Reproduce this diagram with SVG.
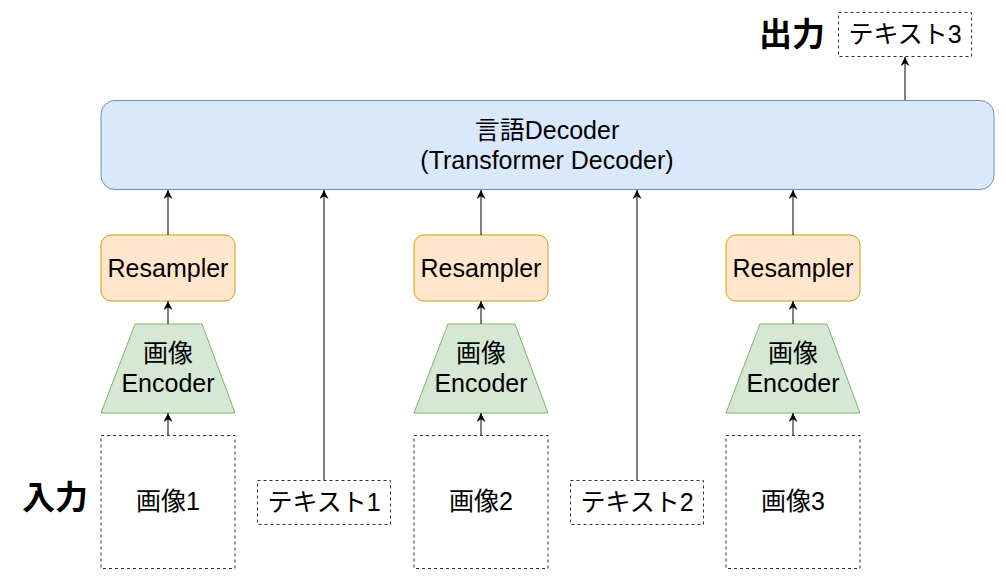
<svg xmlns="http://www.w3.org/2000/svg" width="1006" height="581" viewBox="0 0 1006 581">
<defs>
<style>
.t{font-family:"Liberation Sans","Noto Sans CJK JP",Arial,sans-serif;font-size:25px;fill:#000;text-anchor:middle}
.b{font-family:"Noto Sans CJK JP","Liberation Sans",sans-serif;font-size:33px;font-weight:bold;fill:#000;text-anchor:middle}
.dec{fill:#dae8fc;stroke:#6c8ebf;stroke-width:1}
.res{fill:#ffe6cc;stroke:#d79b00;stroke-width:1}
.enc{fill:#d5e8d4;stroke:#82b366;stroke-width:1}
.dash{fill:#fff;stroke:#333;stroke-width:1;stroke-dasharray:3 3}
.c{stroke:#000;stroke-width:1;fill:none;marker-end:url(#arr)}
</style>
<marker id="arr" markerUnits="userSpaceOnUse" viewBox="0 0 10 10" refX="10" refY="5" markerWidth="10" markerHeight="9" orient="auto">
<path d="M0,0 L10,5 L0,10 L3,5 z" fill="#000"/>
</marker>
</defs>
<rect width="1006" height="581" fill="#fff"/>
<g id="decoder">
<rect class="dec" x="101" y="100.5" width="893" height="89" rx="14"/>
<text class="t" x="547" y="139">言語Decoder</text>
<text class="t" x="547" y="169">(Transformer Decoder)</text>
</g>
<g id="resampler1"><rect class="res" x="101" y="235" width="134" height="66" rx="10"/><text class="t" x="168" y="277">Resampler</text></g>
<g id="resampler2"><rect class="res" x="414" y="235" width="134" height="66" rx="10"/><text class="t" x="481" y="277">Resampler</text></g>
<g id="resampler3"><rect class="res" x="726" y="235" width="134" height="66" rx="10"/><text class="t" x="793" y="277">Resampler</text></g>
<g id="encoder1"><path class="enc" d="M135,324 L202,324 L235,413 L101,413 Z"/><text class="t" x="168" y="362">画像</text><text class="t" x="168" y="392">Encoder</text></g>
<g id="encoder2"><path class="enc" d="M448,324 L515,324 L548,413 L414,413 Z"/><text class="t" x="481" y="362">画像</text><text class="t" x="481" y="392">Encoder</text></g>
<g id="encoder3"><path class="enc" d="M760,324 L827,324 L860,413 L726,413 Z"/><text class="t" x="793" y="362">画像</text><text class="t" x="793" y="392">Encoder</text></g>
<g id="image1"><rect class="dash" x="101" y="435.5" width="134" height="133"/><text class="t" x="168" y="510">画像1</text></g>
<g id="image2"><rect class="dash" x="414" y="435.5" width="134" height="133"/><text class="t" x="481" y="510">画像2</text></g>
<g id="image3"><rect class="dash" x="726" y="435.5" width="134" height="133"/><text class="t" x="793" y="510">画像3</text></g>
<g id="text1"><rect class="dash" x="257.5" y="480.5" width="133" height="44"/><text class="t" x="324" y="511">テキスト1</text></g>
<g id="text2"><rect class="dash" x="570.5" y="480.5" width="133" height="44"/><text class="t" x="637" y="511">テキスト2</text></g>
<g id="text3"><rect class="dash" x="838.5" y="12.5" width="133" height="44"/><text class="t" x="905" y="43">テキスト3</text></g>
<g id="label-out"><text class="b" x="792" y="46">出力</text></g>
<g id="label-in"><text class="b" x="55" y="509">入力</text></g>
<g id="connectors">
<line class="c" x1="168" y1="235" x2="168" y2="190"/>
<line class="c" x1="481" y1="235" x2="481" y2="190"/>
<line class="c" x1="793" y1="235" x2="793" y2="190"/>
<line class="c" x1="168" y1="324" x2="168" y2="301"/>
<line class="c" x1="481" y1="324" x2="481" y2="301"/>
<line class="c" x1="793" y1="324" x2="793" y2="301"/>
<line class="c" x1="168" y1="435" x2="168" y2="413"/>
<line class="c" x1="481" y1="435" x2="481" y2="413"/>
<line class="c" x1="793" y1="435" x2="793" y2="413"/>
<line class="c" x1="324" y1="480" x2="324" y2="190"/>
<line class="c" x1="637" y1="480" x2="637" y2="190"/>
<line class="c" x1="905" y1="100" x2="905" y2="57"/>
</g>
</svg>
